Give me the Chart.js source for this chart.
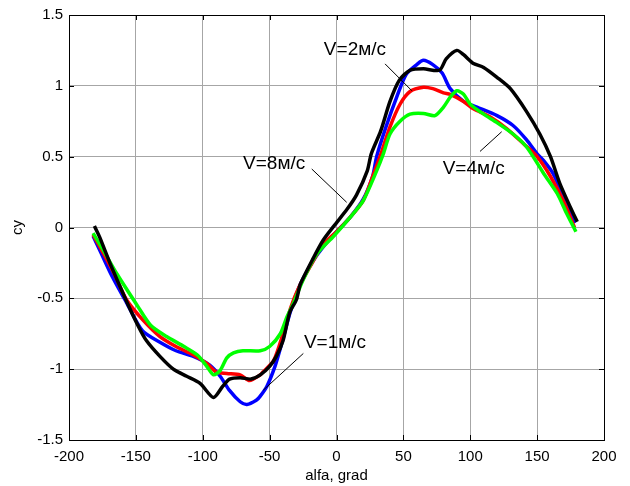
<!DOCTYPE html>
<html>
<head>
<meta charset="utf-8">
<script src="https://cdn.jsdelivr.net/npm/chart.js@4.4.1/dist/chart.umd.min.js"></script>
<style>
  html, body { margin: 0; padding: 0; background: #fff; }
</style>
</head>
<body>
<canvas id="cyChart" width="630" height="486"></canvas>
<script>
// angle of attack (deg) and lift coefficient, one pair of arrays per wind speed
const alfa1 = [-182, -176, -168, -157, -145, -132, -120, -107, -95, -87, -80, -72, -67, -60, -57, -52, -46, -41, -35, -30, -25, -15, -5, 0, 10, 20, 27, 30, 37, 45, 52, 60, 65, 72, 79, 85, 95, 105, 120, 132, 142, 150, 155, 162, 172, 178];
const cy1   = [-0.06, -0.18, -0.34, -0.53, -0.73, -0.81, -0.87, -0.91, -0.97, -1.05, -1.15, -1.23, -1.25, -1.22, -1.19, -1.12, -0.98, -0.82, -0.61, -0.47, -0.36, -0.20, -0.08, -0.03, 0.07, 0.20, 0.36, 0.50, 0.71, 0.92, 1.08, 1.15, 1.18, 1.15, 1.09, 0.98, 0.89, 0.85, 0.79, 0.72, 0.62, 0.52, 0.47, 0.38, 0.17, 0.03];

const alfa2 = [-182, -175, -166, -157, -145, -132, -120, -107, -97, -90, -82, -72, -65, -57, -55, -47, -40, -34, -28, -20, -10, 0, 10, 20, 27, 32.5, 40, 47.5, 55, 65, 72, 80, 85, 95, 102, 115, 127, 140, 150, 160, 170, 178];
const cy2   = [-0.05, -0.17, -0.33, -0.51, -0.65, -0.77, -0.84, -0.90, -0.96, -1.02, -1.03, -1.04, -1.08, -1.04, -1.02, -0.94, -0.75, -0.56, -0.42, -0.28, -0.12, -0.03, 0.07, 0.19, 0.36, 0.50, 0.71, 0.87, 0.96, 0.99, 0.98, 0.95, 0.94, 0.89, 0.84, 0.78, 0.70, 0.59, 0.50, 0.36, 0.18, 0.00];

const alfa4 = [-182, -175, -164, -149, -139, -127, -114, -104, -97, -92, -87, -82, -77, -70, -57, -50, -42, -37, -32, -25, -15, -2, 10, 20, 30, 35, 40, 47.5, 55, 65, 73.6, 80, 85, 90, 95, 100, 110, 120, 132, 142, 155, 165, 172, 179];
const cy4   = [-0.04, -0.15, -0.33, -0.55, -0.69, -0.77, -0.84, -0.90, -0.98, -1.04, -1.01, -0.92, -0.885, -0.87, -0.87, -0.84, -0.75, -0.63, -0.53, -0.37, -0.19, -0.06, 0.07, 0.19, 0.40, 0.52, 0.66, 0.75, 0.80, 0.805, 0.79, 0.85, 0.92, 0.965, 0.94, 0.87, 0.80, 0.74, 0.66, 0.57, 0.38, 0.24, 0.10, -0.03];

const alfa8 = [-181, -177, -169, -157, -148, -142, -132, -122, -112, -102, -92, -85, -80, -72, -64, -57, -50, -45, -40, -35, -30, -27, -17, -10, -2, 8, 15, 23, 26, 33, 40, 47, 55, 65, 77, 82, 90, 95, 102, 110, 120, 130, 142, 152, 160, 167, 175, 180];
const cy8   = [0.01, -0.07, -0.26, -0.52, -0.70, -0.80, -0.91, -1.00, -1.05, -1.10, -1.20, -1.12, -1.07, -1.06, -1.07, -1.04, -0.98, -0.91, -0.80, -0.60, -0.51, -0.40, -0.21, -0.09, 0.01, 0.13, 0.23, 0.40, 0.52, 0.68, 0.89, 1.04, 1.11, 1.12, 1.11, 1.19, 1.25, 1.22, 1.16, 1.13, 1.06, 0.98, 0.82, 0.66, 0.50, 0.31, 0.14, 0.04];

const xTicks = [-200, -150, -100, -50, 0, 50, 100, 150, 200];
const yTicks = [-1.5, -1, -0.5, 0, 0.5, 1, 1.5];

// text callouts, in data units
const noteText   = ['V=2м/с', 'V=8м/с', 'V=4м/с', 'V=1м/с'];
const noteAt     = [[13.8, 1.256], [-46.6, 0.449], [102.6, 0.413], [-1.1, -0.813]];
const leaderFrom = [[36.3, 1.155], [-18.5, 0.413], [107.3, 0.537], [-24.8, -0.889]];
const leaderTo   = [[56.4, 0.965], [7.6, 0.178], [123.5, 0.676], [-54.7, -1.148]];

const FONT = '"Liberation Sans", Arial, sans-serif';

const toPoints = (xs, ys) => xs.map((x, i) => ({ x, y: ys[i] }));

const lineSet = (xs, ys, color) => ({
  data: toPoints(xs, ys),
  borderColor: color,
  backgroundColor: color,
  borderWidth: 3.5,
  showLine: true,
  pointRadius: 0,
  tension: 0.25,
  fill: false,
});

// MATLAB-ish box with inward tick marks, plus the callouts
const boxAndNotes = {
  id: 'boxAndNotes',
  afterDraw(chart) {
    const { ctx, chartArea: a, scales: { x, y } } = chart;
    ctx.save();
    ctx.strokeStyle = '#000';
    ctx.lineWidth = 1;
    ctx.strokeRect(a.left + 0.5, a.top + 0.5, a.right - a.left, a.bottom - a.top);
    ctx.beginPath();
    xTicks.forEach(v => {
      const px = Math.round(x.getPixelForValue(v)) + 0.5;
      ctx.moveTo(px, a.bottom); ctx.lineTo(px, a.bottom - 5);
      ctx.moveTo(px, a.top); ctx.lineTo(px, a.top + 5);
    });
    yTicks.forEach(v => {
      const py = Math.round(y.getPixelForValue(v)) + 0.5;
      ctx.moveTo(a.left, py); ctx.lineTo(a.left + 5, py);
      ctx.moveTo(a.right, py); ctx.lineTo(a.right - 5, py);
    });
    ctx.stroke();

    ctx.beginPath();
    leaderFrom.forEach((p, i) => {
      ctx.moveTo(x.getPixelForValue(p[0]), y.getPixelForValue(p[1]));
      ctx.lineTo(x.getPixelForValue(leaderTo[i][0]), y.getPixelForValue(leaderTo[i][1]));
    });
    ctx.stroke();

    ctx.fillStyle = '#000';
    ctx.font = '19px ' + FONT;
    ctx.textAlign = 'center';
    ctx.textBaseline = 'middle';
    noteText.forEach((t, i) => {
      ctx.fillText(t, x.getPixelForValue(noteAt[i][0]), y.getPixelForValue(noteAt[i][1]));
    });
    ctx.restore();
  }
};

new Chart(document.getElementById('cyChart'), {
  type: 'scatter',
  data: {
    // first dataset ends up on top
    datasets: [
      lineSet(alfa8, cy8, '#000000'),
      lineSet(alfa4, cy4, '#00ff00'),
      lineSet(alfa2, cy2, '#ff0000'),
      lineSet(alfa1, cy1, '#0000ff'),
    ],
  },
  options: {
    responsive: false,
    animation: false,
    layout: { padding: { top: 14, right: 26, left: 0, bottom: 0 } },
    plugins: { legend: { display: false }, tooltip: { enabled: false } },
    scales: {
      x: {
        type: 'linear',
        min: -200, max: 200,
        afterBuildTicks: s => { s.ticks = xTicks.map(v => ({ value: v })); },
        afterFit: s => { s.height = 46; },
        ticks: { color: '#000', padding: 8, font: { family: FONT, size: 15 }, callback: v => String(v) },
        grid: { color: '#a6a6a6', lineWidth: 1, drawTicks: false },
        border: { display: true, color: '#000' },
        title: { display: true, text: 'alfa, grad', color: '#000', padding: { top: 0, bottom: 1 }, font: { family: FONT, size: 15 } },
      },
      y: {
        type: 'linear',
        min: -1.5, max: 1.5,
        afterBuildTicks: s => { s.ticks = yTicks.map(v => ({ value: v })); },
        afterFit: s => { s.width = 69; },
        ticks: { color: '#000', padding: 6, font: { family: FONT, size: 15 }, callback: v => String(v) },
        grid: { color: '#a6a6a6', lineWidth: 1, drawTicks: false },
        border: { display: true, color: '#000' },
        title: { display: true, text: 'cy', color: '#000', padding: { top: 9, bottom: 0 }, font: { family: FONT, size: 15 } },
      },
    },
  },
  plugins: [boxAndNotes],
});
</script>
</body>
</html>
